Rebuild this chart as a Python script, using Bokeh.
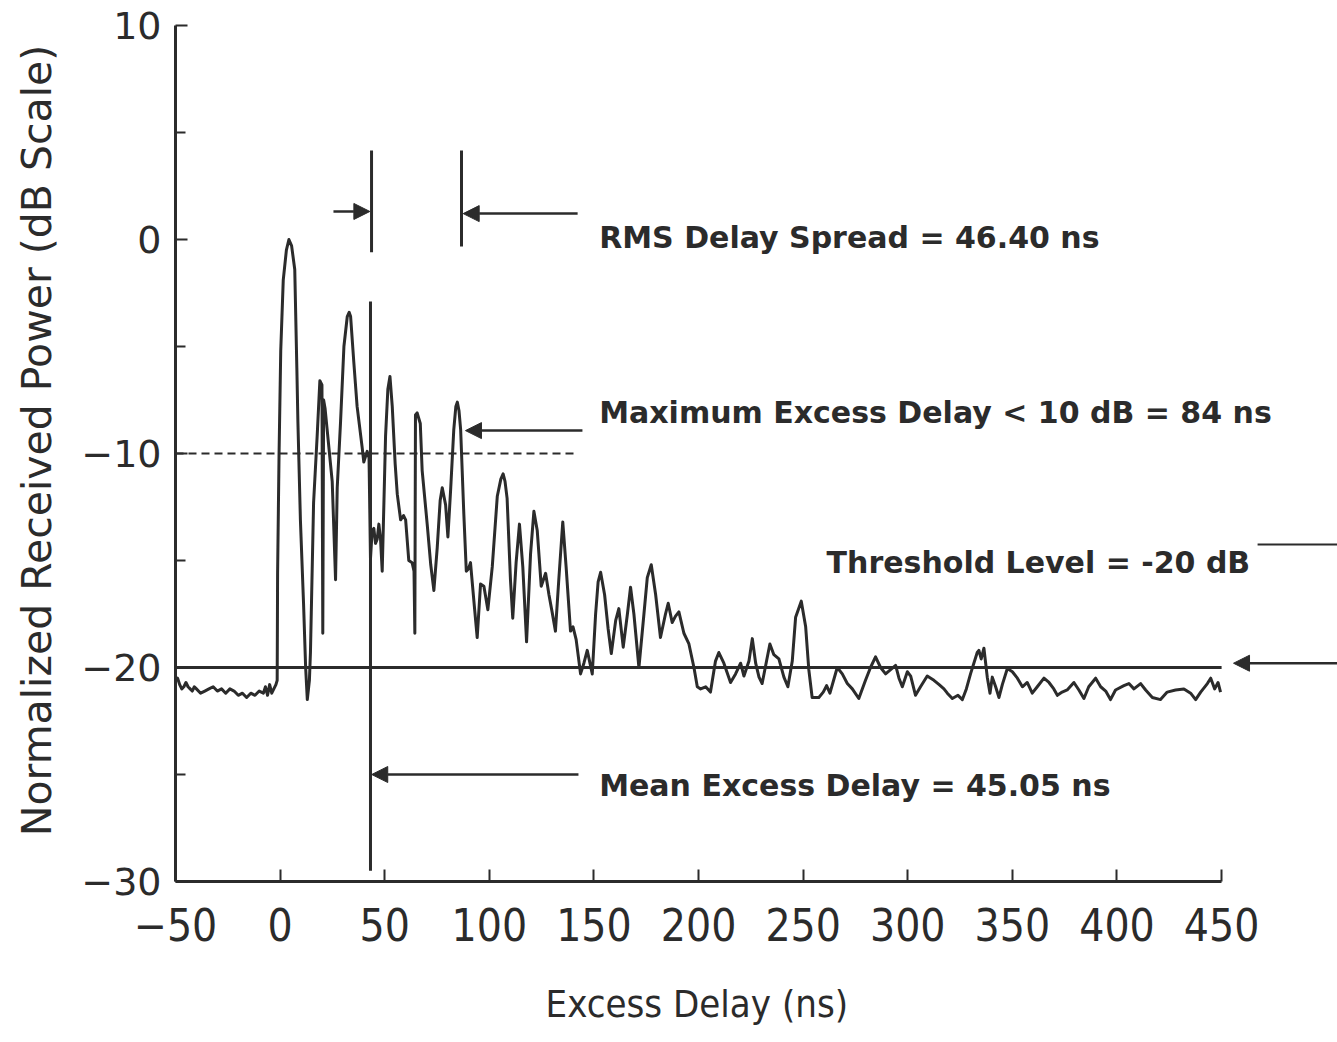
import numpy as np
from bokeh.plotting import figure
from bokeh.models import Range1d, FixedTicker, Arrow, NormalHead
from bokeh.embed import file_html
from bokeh.resources import INLINE
from bokeh.core.properties import value

# ---------------- data ----------------
delay_ns = [
    -50, -49, -48, -47, -46, -45, -44, -43, -42, -41, -40, -38, -36, -34, -32, -30,
    -28, -26, -24, -22, -20, -18, -16, -14, -12, -10, -8, -7, -6, -5, -4, -3, -2,
    -1.4, -1.2, -0.5, 0.3, 1.5, 3.0, 4.2, 5.5, 7.0, 8.0, 8.5, 9.7, 11.2, 12.2, 13.0,
    14.0, 14.5, 16.0, 17.7, 19.0, 20.0, 20.4, 20.8, 21.5, 22.4, 24.9, 26.5, 27.3,
    28.9, 30.5, 32.1, 33.0, 33.7, 35.2, 36.8, 39.2, 40.0, 41.6, 42.5, 43.2, 44.0,
    44.8, 45.6, 46.4, 47.2, 48.0, 48.8, 50.4, 51.5, 52.5, 53.6, 55.0, 56.0, 57.6,
    59.0, 60.0, 61.5, 63.1, 64.0, 64.4, 64.7, 65.5, 67.0, 67.9, 70.3, 72.0, 73.5,
    75.1, 76.5, 77.5, 79.1, 80.2, 81.5, 83.0, 84.0, 84.7, 85.5, 86.3, 87.8, 89.0,
    90.0, 91.0, 92.9, 94.2, 95.8, 97.4, 99.3, 101.4, 103.8, 105.5, 106.6, 107.5,
    108.5, 110.1, 111.2, 112.8, 114.4, 116.0, 117.8, 119.7, 121.3, 122.9, 124.8,
    126.9, 128.5, 130.0, 131.6, 133.2, 135.1, 136.7, 138.8, 140.0, 141.5, 143.6,
    145.2, 146.8, 149.2, 150.8, 152.0, 153.2, 155.1, 156.8, 158.3, 160.4, 161.9,
    164.0, 166.0, 167.5, 169.1, 171.5, 173.9, 175.5, 177.4, 179.5, 181.8, 184.2,
    185.5, 187.4, 189.0, 190.6, 193.0, 195.4, 197.8, 199.4, 201.0, 203.4, 205.7,
    208.1, 209.7, 212.1, 215.3, 217.7, 220.1, 221.7, 224.1, 225.7, 227.3, 228.9,
    230.4, 232.5, 234.1, 236.0, 238.4, 240.8, 242.7, 244.8, 246.4, 249.1, 251.2,
    252.7, 254.3, 257.5, 259.6, 261.2, 262.8, 266.3, 268.7, 271.1, 273.5, 276.6,
    279.8, 282.2, 284.6, 287.0, 289.4, 291.8, 294.2, 295.8, 297.4, 299.8, 301.4,
    303.7, 306.1, 309.3, 312.5, 315.0, 317.3, 318.9, 321.3, 324.0, 326.1, 328.0,
    330.0, 333.2, 334.0, 335.1, 336.4, 338.0, 339.3, 340.4, 342.0, 343.6, 345.2,
    347.6, 350.0, 352.4, 354.8, 357.1, 359.5, 361.9, 365.1, 367.5, 369.8, 371.5,
    373.8, 376.2, 379.4, 381.8, 384.2, 386.5, 389.8, 392.2, 394.6, 396.9, 399.3,
    403.3, 405.7, 408.1, 411.3, 413.7, 416.9, 420.8, 424.0, 428.0, 432.0, 435.2,
    437.6, 440.0, 443.2, 444.8, 446.7, 448.3, 449.5,
]
power_db = [
    -20.6, -20.5, -20.8, -21.0, -20.9, -20.7, -20.9, -21.0, -21.1, -20.9, -21.0, -21.2,
    -21.1, -21.0, -20.9, -21.1, -21.0, -21.2, -21.0, -21.1, -21.3, -21.2, -21.4, -21.2,
    -21.3, -21.1, -21.2, -20.9, -21.3, -20.8, -21.2, -21.0, -20.8,
    -20.6, -15.6, -10.0, -5.2, -1.9, -0.5, 0.0, -0.3, -1.4, -6.0, -8.5, -13.1, -17.0,
    -20.0, -21.5, -20.6, -19.3, -12.3, -9.2, -6.6, -6.8, -18.4, -7.5, -7.9, -8.8,
    -11.3, -15.9, -11.6, -8.5, -5.0, -3.6, -3.4, -3.6, -5.7, -7.8, -9.7, -10.4, -9.9,
    -10.2, -14.9, -13.6, -13.5, -14.2, -14.0, -13.3, -14.0, -15.5, -9.2, -7.0, -6.4,
    -7.8, -10.5, -11.9, -13.1, -12.9, -13.1, -15.0, -15.1, -15.5, -18.4, -8.2, -8.1,
    -8.6, -10.8, -13.3, -15.2, -16.4, -14.4, -12.2, -11.6, -12.4, -13.9, -11.7, -8.9,
    -7.8, -7.6, -8.0, -8.9, -12.8, -15.5, -15.4, -15.1, -17.2, -18.6, -16.1, -16.2,
    -17.3, -15.3, -12.0, -11.2, -10.95, -11.3, -12.1, -15.9, -17.7, -15.1, -13.3,
    -15.3, -18.8, -14.7, -12.7, -13.6, -16.2, -15.6, -16.6, -17.4, -18.3, -15.9,
    -13.2, -15.3, -18.3, -18.1, -18.7, -20.3, -19.8, -19.2, -20.3, -17.5, -16.0,
    -15.55, -16.6, -18.2, -19.35, -17.8, -17.25, -19.05, -17.5, -16.25, -17.5, -20.0,
    -17.5, -15.8, -15.2, -16.6, -18.6, -17.5, -17.0, -17.9, -17.6, -17.4, -18.4,
    -18.9, -20.0, -20.9, -21.0, -20.9, -21.15, -19.7, -19.3, -19.8, -20.7, -20.3,
    -19.8, -20.4, -19.7, -18.65, -19.8, -20.45, -20.75, -19.7, -18.9, -19.4, -19.6,
    -20.45, -20.9, -19.7, -17.65, -16.9, -18.1, -20.1, -21.4, -21.4, -21.15, -20.85,
    -21.2, -20.0, -20.3, -20.75, -21.0, -21.45, -20.6, -20.0, -19.5, -20.0, -20.3,
    -20.1, -19.9, -20.5, -20.9, -20.2, -20.4, -21.3, -20.9, -20.4, -20.6, -20.8,
    -21.0, -21.2, -21.45, -21.3, -21.5, -21.0, -20.3, -19.3, -19.2, -19.6, -19.1,
    -20.45, -21.2, -20.45, -20.9, -21.4, -20.8, -20.05, -20.2, -20.5, -20.9, -20.7,
    -21.2, -20.9, -20.5, -20.7, -21.0, -21.3, -21.15, -21.05, -20.7, -21.05, -21.45,
    -20.9, -20.5, -20.9, -21.1, -21.5, -21.05, -20.85, -20.75, -21.0, -20.75, -21.05,
    -21.4, -21.5, -21.15, -21.05, -21.0, -21.2, -21.5, -21.15, -20.75, -20.5, -21.0,
    -20.7, -21.15,
]

x_ticks = [-50, 0, 50, 100, 150, 200, 250, 300, 350, 400, 450]
y_ticks = [-30, -20, -10, 0, 10]
y_minor_ticks = [-25, -15, -5, 5]
y_tick_labels = {-30: "\u221230", -20: "\u221220", -10: "\u221210", 0: "0", 10: "10"}

x_title = "Excess Delay (ns)"
y_title = "Normalized Received Power (dB Scale)"

threshold_db = -20
level_10db = -10
mean_excess_delay_ns = 43.2
rms_left_ns = 43.7
rms_right_ns = 86.7
max_excess_peak_ns = 88.6

annotation_texts = [
    "RMS Delay Spread = 46.40 ns",
    "Maximum Excess Delay < 10 dB = 84 ns",
    "Threshold Level = -20 dB",
    "Mean Excess Delay = 45.05 ns",
]

INK = "#2b2b2b"
NBSP = "\u00a0"

p = figure(
    width=1337, height=1042,
    x_range=Range1d(-50, 505.4), y_range=Range1d(-30, 10),
    output_backend="svg", toolbar_location=None,
    min_border_left=175, min_border_right=0, min_border_top=25, min_border_bottom=161,
)
p.outline_line_color = None
p.xgrid.visible = False
p.ygrid.visible = False
p.background_fill_color = "white"

# axes
p.xaxis.bounds = (-50, 450)
p.xaxis.ticker = FixedTicker(ticks=x_ticks, minor_ticks=[])
p.yaxis.ticker = FixedTicker(ticks=y_ticks, minor_ticks=y_minor_ticks)
p.yaxis.major_label_overrides = y_tick_labels
for ax in (p.xaxis, p.yaxis):
    ax.axis_line_width = 3
    ax.axis_line_color = INK
    ax.major_tick_line_color = INK
    ax.major_tick_line_width = 2
    ax.minor_tick_line_color = INK
    ax.minor_tick_line_width = 2
    ax.major_tick_out = 0
    ax.minor_tick_out = 0
    ax.major_label_text_color = INK
    ax.axis_label_text_color = INK
    ax.axis_label_text_font_style = "normal"
p.xaxis.major_tick_in = 12
p.yaxis.major_tick_in = 12
p.yaxis.minor_tick_in = 10

p.yaxis.major_label_text_font = "DejaVu Sans"
p.yaxis.major_label_text_font_size = "38px"
p.yaxis.major_label_standoff = 14
# leading spaces nudge the centred title up to where the reference has it
p.yaxis.axis_label = NBSP * 2 + y_title
p.yaxis.axis_label_text_font = "DejaVu Sans"
p.yaxis.axis_label_text_font_size = "41px"
p.yaxis.axis_label_standoff = 17

p.xaxis.major_label_text_font = "DejaVu Sans Condensed"
p.xaxis.major_label_text_font_size = "44px"
p.xaxis.major_label_standoff = 26
# trailing spaces nudge the centred title left, under the middle of the axis
p.xaxis.axis_label = x_title + NBSP * 11
p.xaxis.axis_label_text_font = "DejaVu Sans Condensed"
p.xaxis.axis_label_text_font_size = "38px"
p.xaxis.axis_label_standoff = 38

# reference lines
p.line([-50, 450], [threshold_db, threshold_db], line_width=3, line_color=INK)
p.line([-50, 142.6], [level_10db, level_10db], line_width=2, line_color=INK, line_dash="8 5")

# measured trace
p.line(delay_ns, power_db, line_width=3, line_color=INK, line_join="round")

# mean excess delay marker
p.line([mean_excess_delay_ns, mean_excess_delay_ns], [-29.5, -2.9], line_width=3, line_color=INK)
# RMS delay spread bars
p.line([rms_left_ns, rms_left_ns], [-0.6, 4.16], line_width=3, line_color=INK)
p.line([rms_right_ns, rms_right_ns], [-0.33, 4.16], line_width=3, line_color=INK)

def arrow(x0, y0, x1, y1):
    p.add_layout(Arrow(
        end=NormalHead(size=16, fill_color=INK, line_color=INK, line_width=1),
        x_start=x0, y_start=y0, x_end=x1, y_end=y1,
        line_width=2.5, line_color=INK,
    ))

arrow(25.5, 1.31, rms_left_ns - 0.8, 1.31)
arrow(142.2, 1.21, rms_right_ns + 0.8, 1.21)
arrow(144.5, -8.93, max_excess_peak_ns, -8.93)
arrow(142.6, -25.0, mean_excess_delay_ns + 0.6, -25.0)
arrow(510, -19.8, 455.7, -19.8)
p.line([467.2, 510], [-14.25, -14.25], line_width=2, line_color=INK)

# annotation texts
p.text(x=[152.5, 152.5, 261.2, 152.5],
       y=[0.1, -8.1, -15.1, -25.5],
       text=annotation_texts,
       text_font=value("DejaVu Sans"), text_font_style="bold",
       text_font_size="30px", text_color=INK,
       text_align="left", text_baseline="alphabetic")

open("out.html", "w").write(file_html(p, INLINE))
